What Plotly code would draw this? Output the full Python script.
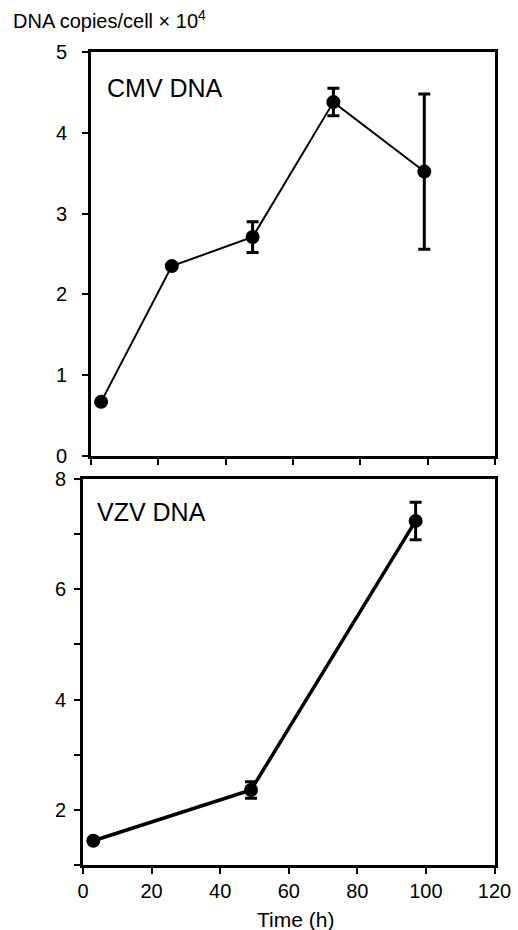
import plotly.graph_objects as go

# CMV DNA copies per cell (x10^4) over time
cmv_time = [3, 24, 48, 72, 99]
cmv_copies = [0.67, 2.35, 2.71, 4.38, 3.52]
cmv_err = [0, 0, 0.19, 0.17, 0.96]

# VZV DNA copies per cell (x10^4) over time
vzv_time = [3, 49, 97]
vzv_copies = [1.44, 2.36, 7.24]
vzv_err = [0, 0.15, 0.34]

x_ticks = [0, 20, 40, 60, 80, 100, 120]
cmv_y_ticks = [0, 1, 2, 3, 4, 5]
vzv_y_ticks = [2, 4, 6, 8]
vzv_y_minor = [1, 3, 5, 7]

W, H = 518, 930
FONT = "Liberation Sans, Arial, sans-serif"

fig = go.Figure()

fig.add_trace(go.Scatter(
    x=cmv_time, y=cmv_copies, mode="lines+markers",
    line=dict(color="black", width=2),
    marker=dict(color="black", size=14),
    error_y=dict(type="data", array=cmv_err, visible=True,
                 color="black", thickness=3, width=6),
    xaxis="x", yaxis="y", showlegend=False,
))

fig.add_trace(go.Scatter(
    x=vzv_time, y=vzv_copies, mode="lines+markers",
    line=dict(color="black", width=3.5),
    marker=dict(color="black", size=14),
    error_y=dict(type="data", array=vzv_err, visible=True,
                 color="black", thickness=3, width=6),
    xaxis="x2", yaxis="y2", showlegend=False,
))

axis_common = dict(
    showline=True, linecolor="black", linewidth=3, mirror=True,
    ticks="outside", tickcolor="black", tickwidth=2, ticklen=6,
    showgrid=False, zeroline=False,
    tickfont=dict(family=FONT, size=20, color="black"),
)

fig.update_layout(
    width=W, height=H,
    margin=dict(l=0, r=0, t=0, b=0, autoexpand=False),
    paper_bgcolor="white", plot_bgcolor="white",
    xaxis=dict(
        domain=[91 / W, 495 / W], anchor="y",
        range=[0, 120], tickvals=x_ticks, showticklabels=False,
        automargin=False, **axis_common,
    ),
    yaxis=dict(
        domain=[1 - 456 / H, 1 - 52 / H], anchor="x",
        range=[0, 5], tickvals=cmv_y_ticks,
        ticklabelstandoff=11, automargin=False,
        **axis_common,
    ),
    xaxis2=dict(
        domain=[83 / W, 494.5 / W], anchor="y2",
        range=[0, 120], tickvals=x_ticks, automargin=False,
        **axis_common,
    ),
    yaxis2=dict(
        domain=[1 - 865 / H, 1 - 479 / H], anchor="x2",
        range=[1, 8], tickvals=vzv_y_ticks,
        minor=dict(tickvals=vzv_y_minor, ticks="outside", ticklen=6,
                   tickwidth=2, tickcolor="black"),
        ticklabelstandoff=4, automargin=False,
        **axis_common,
    ),
    annotations=[
        dict(text="DNA copies/cell × 10<sup>4</sup>", x=11 / W, y=1 - 20 / H,
             xref="paper", yref="paper", xanchor="left", yanchor="middle",
             showarrow=False, font=dict(family=FONT, size=20, color="black")),
        dict(text="CMV DNA", x=105 / W, y=1 - 88 / H,
             xref="paper", yref="paper", xanchor="left", yanchor="middle",
             showarrow=False, font=dict(family=FONT, size=25, color="black")),
        dict(text="VZV DNA", x=95 / W, y=1 - 512 / H,
             xref="paper", yref="paper", xanchor="left", yanchor="middle",
             showarrow=False, font=dict(family=FONT, size=25, color="black")),
        dict(text="Time (h)", x=295 / W, y=1 - 919 / H,
             xref="paper", yref="paper", xanchor="center", yanchor="middle",
             showarrow=False, font=dict(family=FONT, size=21, color="black")),
    ],
)

fig.write_html("out.html")
